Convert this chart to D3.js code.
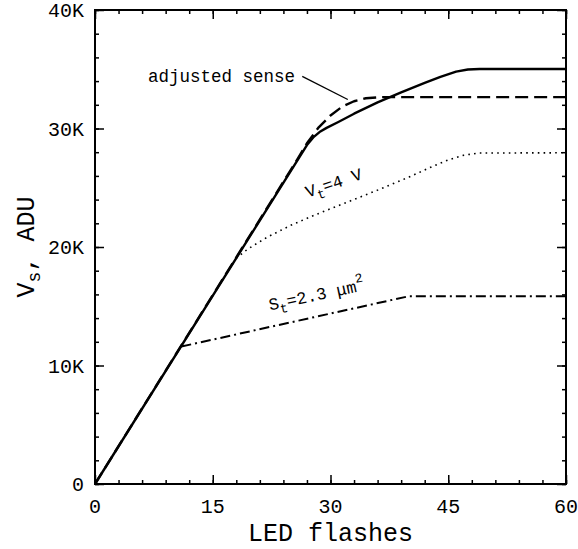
<!DOCTYPE html>
<html>
<head>
<meta charset="utf-8">
<script src="https://cdn.jsdelivr.net/npm/d3@7"></script>
<style>
  body { margin: 0; background: #fff; }
  text { font-family: "Courier New", "Liberation Mono", monospace; fill: #000; }
</style>
</head>
<body>
<svg id="chart" width="578" height="549"></svg>
<script>
// axis ticks
const xMajor = [0, 15, 30, 45, 60];
const xMinor = d3.range(0, 61, 3);
const yMajor = [0, 10000, 20000, 30000, 40000];
const yLabels = ["0", "10K", "20K", "30K", "40K"];
const yMinor = d3.range(0, 40001, 2000);

// curves: [flashes, ADU]
const measured = [[0, 0], [27, 28600], [27.8, 29250], [28.6, 29700], [29.5, 30050], [31, 30550],
  [33, 31250], [36, 32200], [39, 33050], [42, 33850], [44, 34350], [46, 34800], [47.5, 34980],
  [49, 35020], [60, 35020]];
const adjusted = [[0, 0], [25.5, 27100], [27, 28750], [28.5, 30100], [30, 31100],
  [31.5, 31850], [33, 32300], [34.5, 32550], [36.5, 32650], [60, 32650]];
const vt4 = [[18, 19050], [19, 19600], [20, 20050], [22, 20850], [25, 21850], [28, 22700],
  [32, 23750], [36, 24800], [40, 25900], [43, 26800], [45, 27350], [47, 27750], [49, 27930], [60, 27950]];
const st23 = [[11, 11600], [40, 15850], [60, 15850]];

const svg = d3.select("#chart");
const m = { left: 95, right: 566, top: 10, bottom: 484 };

const x = d3.scaleLinear().domain([0, 60]).range([m.left, m.right]);
const y = d3.scaleLinear().domain([0, 40000]).range([m.bottom, m.top]);

// inward ticks on all four sides
function ticks(axis, vals, size, tr) {
  const g = svg.append("g").attr("transform", tr)
    .call(axis.tickValues(vals).tickSize(-size).tickFormat(""));
  g.select(".domain").remove();
  g.selectAll("line").attr("stroke", "#000").attr("stroke-width", 1.5);
}
ticks(d3.axisBottom(x), xMinor, 4, `translate(0,${m.bottom})`);
ticks(d3.axisBottom(x), xMajor, 9, `translate(0,${m.bottom})`);
ticks(d3.axisTop(x), xMinor, 4, `translate(0,${m.top})`);
ticks(d3.axisTop(x), xMajor, 9, `translate(0,${m.top})`);
ticks(d3.axisLeft(y), yMinor, 4, `translate(${m.left},0)`);
ticks(d3.axisLeft(y), yMajor, 9, `translate(${m.left},0)`);
ticks(d3.axisRight(y), yMinor, 4, `translate(${m.right},0)`);
ticks(d3.axisRight(y), yMajor, 9, `translate(${m.right},0)`);

svg.append("rect")
  .attr("x", m.left).attr("y", m.top)
  .attr("width", m.right - m.left).attr("height", m.bottom - m.top)
  .attr("fill", "none").attr("stroke", "#000").attr("stroke-width", 2);

// tick labels
svg.append("g").selectAll("text").data(xMajor).join("text")
  .attr("x", d => x(d)).attr("y", m.bottom + 29)
  .attr("text-anchor", "middle").attr("font-size", 20)
  .text(d => d);
svg.append("g").selectAll("text").data(yMajor).join("text")
  .attr("x", m.left - 11).attr("y", d => y(d) + 7)
  .attr("text-anchor", "end").attr("font-size", 20)
  .text((d, i) => yLabels[i]);

// axis titles
svg.append("text")
  .attr("x", (m.left + m.right) / 2).attr("y", 541)
  .attr("text-anchor", "middle").attr("font-size", 25)
  .text("LED flashes");

const yt = svg.append("text")
  .attr("transform", `translate(34,${(m.top + m.bottom) / 2}) rotate(-90)`)
  .attr("text-anchor", "middle").attr("font-size", 25);
yt.append("tspan").text("V");
yt.append("tspan").attr("dy", 6).attr("font-size", 18).text("s");
yt.append("tspan").attr("dy", -6).text(", ADU");

// curves
const line = d3.line().x(d => x(d[0])).y(d => y(d[1]));
const series = [
  { data: st23, width: 2, dash: "10,4,2,4" },
  { data: vt4, width: 1.6, dash: "1.6,4.2" },
  { data: adjusted, width: 2.4, dash: "13,6" },
  { data: measured, width: 2.4, dash: null }
];
series.forEach(s => {
  svg.append("path").datum(s.data).attr("d", line)
    .attr("fill", "none").attr("stroke", "#000")
    .attr("stroke-width", s.width)
    .attr("stroke-linejoin", "round")
    .attr("stroke-dasharray", s.dash);
});

// annotations (data units)
svg.append("text")
  .attr("x", x(6.75)).attr("y", y(33900))
  .attr("font-size", 17.5).text("adjusted sense");
svg.append("line")
  .attr("x1", x(26.4)).attr("y1", y(34400))
  .attr("x2", x(32.2)).attr("y2", y(32450))
  .attr("stroke", "#000").attr("stroke-width", 1.3);

const vl = svg.append("text")
  .attr("transform", `translate(${x(27.1)},${y(24150)}) rotate(-19)`)
  .attr("font-size", 17);
vl.append("tspan").text("V");
vl.append("tspan").attr("dy", 5).attr("font-size", 13).text("t");
vl.append("tspan").attr("dy", -5).text("=4 V");

const sl = svg.append("text")
  .attr("transform", `translate(${x(22.3)},${y(14650)}) rotate(-12)`)
  .attr("font-size", 17);
sl.append("tspan").text("S");
sl.append("tspan").attr("dy", 5).attr("font-size", 13).text("t");
sl.append("tspan").attr("dy", -5).text("=2.3 μm");
sl.append("tspan").attr("dy", -9).attr("font-size", 13).text("2");
</script>
</body>
</html>
